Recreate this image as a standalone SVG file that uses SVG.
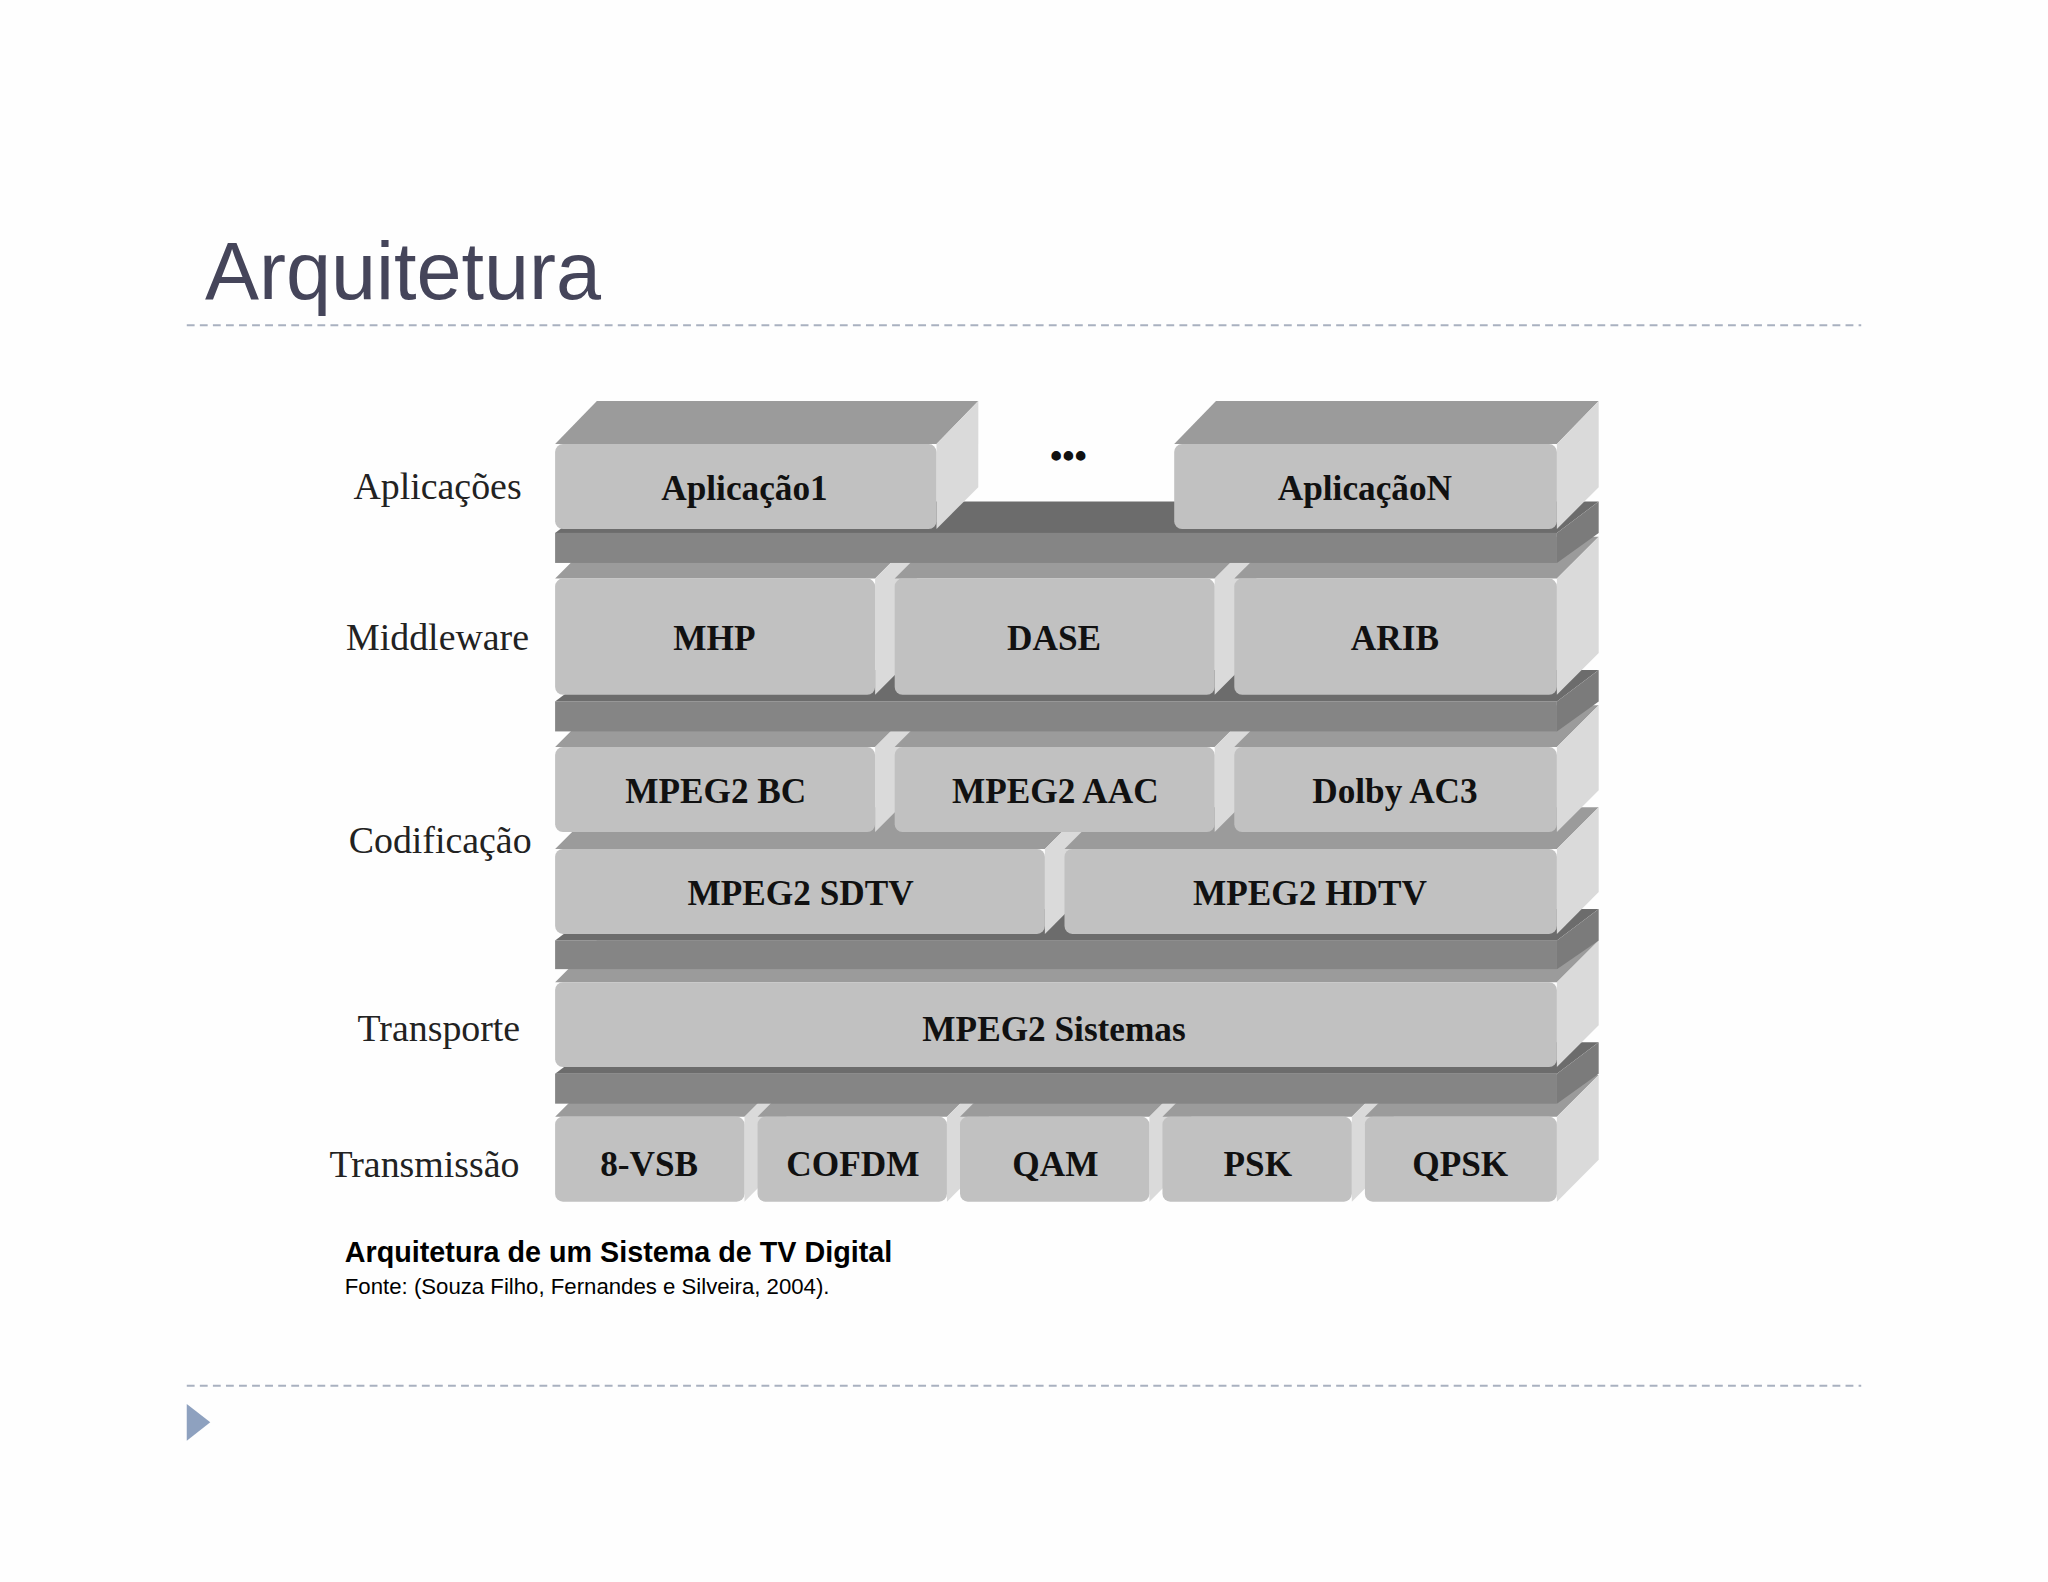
<svg xmlns="http://www.w3.org/2000/svg" width="2048" height="1582" viewBox="0 0 2048 1582">
<style>
.f{fill:#c1c1c1}.t{fill:#9b9b9b}.r{fill:#dadada}
.sf{fill:#858585}.st{fill:#6c6c6c}.sr{fill:#7b7b7b}
.bt{font-family:"Liberation Serif",serif;font-weight:bold;font-size:27px;fill:#111;text-anchor:middle}
.lb{font-family:"Liberation Serif",serif;font-size:29px;fill:#222;text-anchor:middle}
</style>
<rect width="2048" height="1582" fill="#fefefe"/>
<g transform="scale(1.30612)">
<text x="157" y="229" font-family="Liberation Sans, Arial, sans-serif" font-size="62" fill="#45455a">Arquitetura</text>
<line x1="143" y1="249" x2="1425" y2="249" stroke="#a9b1c0" stroke-width="1.5" stroke-dasharray="6,4"/>
<line x1="143" y1="1061" x2="1425" y2="1061" stroke="#a9b1c0" stroke-width="1.5" stroke-dasharray="6,4"/>
<polygon points="143,1075 161,1089 143,1103" fill="#8ea1bf"/>
<g id="labels">
<text class="lb" x="335" y="382">Aplicações</text>
<text class="lb" x="335" y="498">Middleware</text>
<text class="lb" x="337" y="653">Codificação</text>
<text class="lb" x="336" y="797">Transporte</text>
<text class="lb" x="325" y="901">Transmissão</text>
</g>
<!-- Transmissão -->
<g id="t1"><polygon class="t" points="425,855 457,823 602,823 570,855"/><polygon class="r" points="570,855 602,823 602,888 570,920"/><rect class="f" x="425" y="855" width="145" height="65" rx="6"/><text class="bt" x="497" y="900">8-VSB</text></g>
<g id="t2"><polygon class="t" points="580,855 612,823 757,823 725,855"/><polygon class="r" points="725,855 757,823 757,888 725,920"/><rect class="f" x="580" y="855" width="145" height="65" rx="6"/><text class="bt" x="653" y="900">COFDM</text></g>
<g id="t3"><polygon class="t" points="735,855 767,823 912,823 880,855"/><polygon class="r" points="880,855 912,823 912,888 880,920"/><rect class="f" x="735" y="855" width="145" height="65" rx="6"/><text class="bt" x="808" y="900">QAM</text></g>
<g id="t4"><polygon class="t" points="890,855 922,823 1067,823 1035,855"/><polygon class="r" points="1035,855 1067,823 1067,888 1035,920"/><rect class="f" x="890" y="855" width="145" height="65" rx="6"/><text class="bt" x="963" y="900">PSK</text></g>
<g id="t5"><polygon class="t" points="1045,855 1077,823 1224,823 1192,855"/><polygon class="r" points="1192,855 1224,823 1224,888 1192,920"/><rect class="f" x="1045" y="855" width="147" height="65" rx="6"/><text class="bt" x="1118" y="900">QPSK</text></g>
<g id="slab4"><polygon class="st" points="425,822 457,798 1224,798 1192,822"/><polygon class="sr" points="1192,822 1224,798 1224,822 1192,845"/><rect class="sf" x="425" y="822" width="767" height="23"/></g>
<!-- Transporte -->
<g id="tr"><polygon class="t" points="425,752 457,720 1224,720 1192,752"/><polygon class="r" points="1192,752 1224,720 1224,785 1192,817"/><rect class="f" x="425" y="752" width="767" height="65" rx="6"/><text class="bt" x="807" y="797">MPEG2 Sistemas</text></g>
<g id="slab3"><polygon class="st" points="425,720 457,696 1224,696 1192,720"/><polygon class="sr" points="1192,720 1224,696 1224,720 1192,742"/><rect class="sf" x="425" y="720" width="767" height="22"/></g>
<!-- Codificação row 2 -->
<g id="c4"><polygon class="t" points="425,650 457,618 832,618 800,650"/><polygon class="r" points="800,650 832,618 832,683 800,715"/><rect class="f" x="425" y="650" width="375" height="65" rx="6"/><text class="bt" x="613" y="693">MPEG2 SDTV</text></g>
<g id="c5"><polygon class="t" points="815,650 847,618 1224,618 1192,650"/><polygon class="r" points="1192,650 1224,618 1224,683 1192,715"/><rect class="f" x="815" y="650" width="377" height="65" rx="6"/><text class="bt" x="1003" y="693">MPEG2 HDTV</text></g>
<!-- Codificação row 1 -->
<g id="c1"><polygon class="t" points="425,572 457,540 702,540 670,572"/><polygon class="r" points="670,572 702,540 702,605 670,637"/><rect class="f" x="425" y="572" width="245" height="65" rx="6"/><text class="bt" x="548" y="615">MPEG2 BC</text></g>
<g id="c2"><polygon class="t" points="685,572 717,540 962,540 930,572"/><polygon class="r" points="930,572 962,540 962,605 930,637"/><rect class="f" x="685" y="572" width="245" height="65" rx="6"/><text class="bt" x="808" y="615">MPEG2 AAC</text></g>
<g id="c3"><polygon class="t" points="945,572 977,540 1224,540 1192,572"/><polygon class="r" points="1192,572 1224,540 1224,605 1192,637"/><rect class="f" x="945" y="572" width="247" height="65" rx="6"/><text class="bt" x="1068" y="615">Dolby AC3</text></g>
<g id="slab2"><polygon class="st" points="425,537 457,513 1224,513 1192,537"/><polygon class="sr" points="1192,537 1224,513 1224,537 1192,560"/><rect class="sf" x="425" y="537" width="767" height="23"/></g>
<!-- Middleware -->
<g id="m1"><polygon class="t" points="425,443 457,411 702,411 670,443"/><polygon class="r" points="670,443 702,411 702,500 670,532"/><rect class="f" x="425" y="443" width="245" height="89" rx="6"/><text class="bt" x="547" y="498">MHP</text></g>
<g id="m2"><polygon class="t" points="685,443 717,411 962,411 930,443"/><polygon class="r" points="930,443 962,411 962,500 930,532"/><rect class="f" x="685" y="443" width="245" height="89" rx="6"/><text class="bt" x="807" y="498">DASE</text></g>
<g id="m3"><polygon class="t" points="945,443 977,411 1224,411 1192,443"/><polygon class="r" points="1192,443 1224,411 1224,500 1192,532"/><rect class="f" x="945" y="443" width="247" height="89" rx="6"/><text class="bt" x="1068" y="498">ARIB</text></g>
<g id="slab1"><polygon class="st" points="425,408 457,384 1224,384 1192,408"/><polygon class="sr" points="1192,408 1224,384 1224,408 1192,431"/><rect class="sf" x="425" y="408" width="767" height="23"/></g>
<!-- Aplicações -->
<g id="a1"><polygon class="t" points="425,340 457,307 749,307 717,340"/><polygon class="r" points="717,340 749,307 749,373 717,405"/><rect class="f" x="425" y="340" width="292" height="65" rx="6"/><text class="bt" x="570" y="383">Aplicação1</text></g>
<g id="aN"><polygon class="t" points="899,340 931,307 1224,307 1192,340"/><polygon class="r" points="1192,340 1224,307 1224,373 1192,405"/><rect class="f" x="899" y="340" width="293" height="65" rx="6"/><text class="bt" x="1045" y="383">AplicaçãoN</text></g>
<text class="bt" x="818" y="358">•••</text>
<text x="264" y="966" font-family="Liberation Sans, Arial, sans-serif" font-weight="bold" font-size="22" fill="#000">Arquitetura de um Sistema de TV Digital</text>
<text x="264" y="991" font-family="Liberation Sans, Arial, sans-serif" font-size="17" fill="#000">Fonte: (Souza Filho, Fernandes e Silveira, 2004).</text>
</g>
</svg>
